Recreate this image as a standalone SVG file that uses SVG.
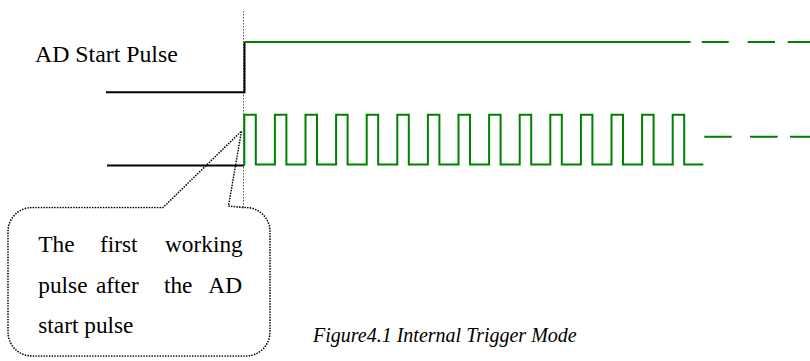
<svg xmlns="http://www.w3.org/2000/svg" width="810" height="361" viewBox="0 0 810 361">
<style>
.sig{fill:none;stroke-width:2;stroke-linejoin:miter}
.blk{stroke:#000}
.grn{stroke:#008000}
.dot{fill:none;stroke:#000;stroke-width:1.7;stroke-linecap:round;stroke-dasharray:0 2.7}
.guide{fill:none;stroke:#555;stroke-width:1;stroke-dasharray:1.5 1.5}
.t{font-family:"Liberation Serif","Times New Roman",serif;fill:#000}
</style>
<rect width="810" height="361" fill="#fff"/>
<g id="guide">
<line class="guide" x1="243.5" y1="11" x2="243.5" y2="208"/>
</g>
<g id="ad-start">
<text class="t" x="35" y="61.7" font-size="23.8">AD Start Pulse</text>
<path class="sig blk" d="M106,92.3 H244.5 V42"/>
<path class="sig grn" d="M244.5,42 H690.7"/>
<path class="sig grn" d="M701.7,42 H728.7 M747.7,42 H775 M787.7,42 H810"/>
</g>
<g id="pulses">
<path class="sig blk" d="M107,165.5 H244.3"/>
<path class="sig grn" d="M244.3,165.5 V114.7 H255.8 V164.5 H274.9 V114.7 H286.4 V164.5 H305.5 V114.7 H317 V164.5 H336.1 V114.7 H347.6 V164.5 H366.7 V114.7 H378.2 V164.5 H397.3 V114.7 H408.8 V164.5 H427.9 V114.7 H439.4 V164.5 H458.5 V114.7 H470 V164.5 H489.1 V114.7 H500.6 V164.5 H519.7 V114.7 H531.2 V164.5 H550.3 V114.7 H561.8 V164.5 H580.9 V114.7 H592.4 V164.5 H611.5 V114.7 H623 V164.5 H642.1 V114.7 H653.6 V164.5 H672.7 V114.7 H684.2 V164.5 H703.3"/>
<path class="sig grn" d="M704.3,136.7 H731.7 M750,136.7 H777.7 M790,136.7 H810"/>
</g>
<g id="callout">
<path class="dot" d="M163,207.5 L241.5,131 L228.5,206 L243,207.5 H246 A24,24 0 0 1 270,231.5 V332 A24,24 0 0 1 246,356 H32 A24,24 0 0 1 8,332 V231.5 A24,24 0 0 1 32,207.5 Z"/>
<text class="t" font-size="23.3" x="38.3" y="251.7">The</text>
<text class="t" font-size="23.3" x="100" y="251.7">first</text>
<text class="t" font-size="23.3" x="242.7" y="251.7" text-anchor="end">working</text>
<text class="t" font-size="23.3" x="38.3" y="292.5">pulse</text>
<text class="t" font-size="23.3" x="96" y="292.5">after</text>
<text class="t" font-size="23.3" x="164" y="292.5">the</text>
<text class="t" font-size="23.3" x="242" y="292.5" text-anchor="end">AD</text>
<text class="t" font-size="23.3" x="38.3" y="333.3">start pulse</text>
</g>
<g id="caption">
<text class="t" x="313" y="342" font-size="20" font-style="italic">Figure4.1 Internal Trigger Mode</text>
</g>
</svg>
